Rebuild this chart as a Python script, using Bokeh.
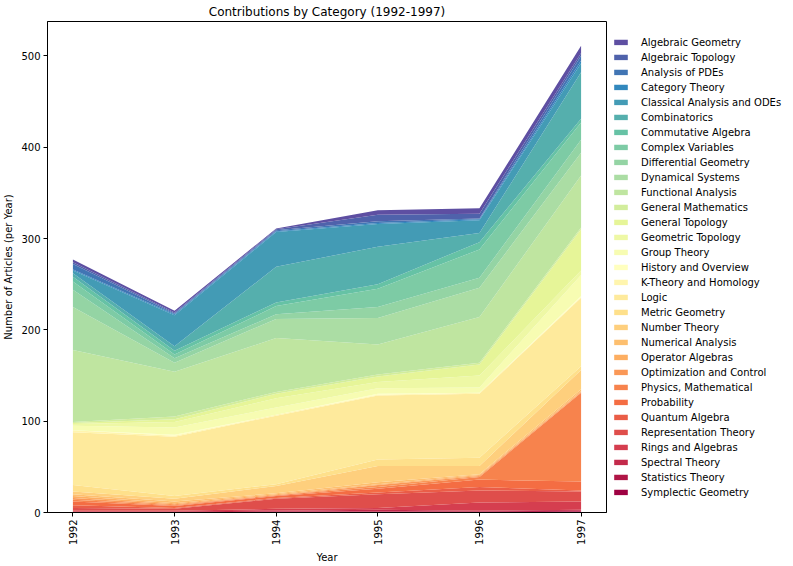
import numpy as np
from bokeh.plotting import figure
from bokeh.models import ColumnDataSource, Legend, LegendItem, FixedTicker, Range1d
from bokeh.embed import file_html
from bokeh.resources import INLINE

years = [1992, 1993, 1994, 1995, 1996, 1997]

# legend order (top of stack first)
categories = [
    "Algebraic Geometry", "Algebraic Topology", "Analysis of PDEs", "Category Theory",
    "Classical Analysis and ODEs", "Combinatorics", "Commutative Algebra", "Complex Variables",
    "Differential Geometry", "Dynamical Systems", "Functional Analysis", "General Mathematics",
    "General Topology", "Geometric Topology", "Group Theory", "History and Overview",
    "K-Theory and Homology", "Logic", "Metric Geometry", "Number Theory", "Numerical Analysis",
    "Operator Algebras", "Optimization and Control", "Physics, Mathematical", "Probability",
    "Quantum Algebra", "Representation Theory", "Rings and Algebras", "Spectral Theory",
    "Statistics Theory", "Symplectic Geometry",
]

algebraic_geometry = [3, 2, 1, 5, 6, 8]
algebraic_topology = [2, 1, 1, 7, 5, 3]
analysis_of_pdes = [6, 1, 1, 2, 1, 5]
category_theory = [1, 1, 1, 1, 1, 3]
classical_analysis = [3, 34, 38, 25, 14, 10]
combinatorics = [4, 5, 39, 41, 10, 51]
commutative_algebra = [5, 4, 4, 5, 8, 4]
complex_variables = [9, 4, 9, 20, 31, 19]
differential_geometry = [19, 5, 5, 12, 11, 14]
dynamical_systems = [47, 10, 21, 29, 32, 25]
functional_analysis = [79, 49, 59, 33, 50, 57]
general_mathematics = [1, 3, 2, 2, 2, 2]
general_topology = [1, 3, 5, 6, 12, 45]
geometric_topology = [2, 6, 10, 7, 13, 5]
group_theory = [5, 8, 8, 6, 6, 23]
history_and_overview = [0, 1, 0, 1, 0, 1]
k_theory = [2, 1, 1, 1, 1, 1]
logic = [58, 65, 75, 70, 70, 75]
metric_geometry = [7, 3, 2, 7, 9, 4]
number_theory = [3, 3, 8, 18, 9, 21]
numerical_analysis = [2, 2, 1, 2, 1, 2]
operator_algebras = [2, 1, 1, 1, 1, 1]
optimization_control = [2, 1, 0, 2, 1, 1]
physics_mathematical = [2, 1, 1, 2, 3, 97]
probability = [4, 2, 2, 4, 8, 10]
quantum_algebra = [3, 1, 1, 2, 4, 1]
representation_theory = [3, 2, 11, 15, 13, 11]
rings_and_algebras = [1, 1, 2, 2, 9, 9]
spectral_theory = [1, 1, 1, 2, 1, 1]
statistics_theory = [0, 0, 1, 1, 1, 1]
symplectic_geometry = [0, 0, 0, 0, 0, 1]

series = [
    algebraic_geometry, algebraic_topology, analysis_of_pdes, category_theory,
    classical_analysis, combinatorics, commutative_algebra, complex_variables,
    differential_geometry, dynamical_systems, functional_analysis, general_mathematics,
    general_topology, geometric_topology, group_theory, history_and_overview,
    k_theory, logic, metric_geometry, number_theory, numerical_analysis,
    operator_algebras, optimization_control, physics_mathematical, probability,
    quantum_algebra, representation_theory, rings_and_algebras, spectral_theory,
    statistics_theory, symplectic_geometry,
]

# Spectral colormap sampled (bottom of stack = red end)
spectral11 = ["#9e0142", "#d53e4f", "#f46d43", "#fdae61", "#fee08b", "#ffffbf",
              "#e6f598", "#abdda4", "#66c2a5", "#3288bd", "#5e4fa2"]
anchors = np.linspace(0, 1, len(spectral11))
rgb = np.array([[int(h[i:i + 2], 16) for i in (1, 3, 5)] for h in spectral11], dtype=float)
n = len(categories)
stack_order = list(range(n))[::-1]  # bottom first: Symplectic ... Algebraic Geometry
colors_bottom_first = []
for k in range(n):
    t = k / (n - 1)
    c = [int(round(np.interp(t, anchors, rgb[:, j]))) for j in range(3)]
    colors_bottom_first.append("#%02x%02x%02x" % tuple(c))

data = {"year": years}
keys = []
for idx in stack_order:
    key = "s%d" % idx
    data[key] = series[idx]
    keys.append(key)
source = ColumnDataSource(data)

p = figure(frame_width=559, frame_height=491, output_backend="svg", toolbar_location=None,
           x_range=Range1d(1991.75, 1997.25), y_range=Range1d(0, 537.6),
           min_border_left=0, min_border_right=0, min_border_top=0, min_border_bottom=0)
p.title.text = "Contributions by Category (1992-1997)"
p.title.align = "center"
p.title.text_font = "DejaVu Sans"
p.title.text_font_size = "12px"
p.title.text_font_style = "normal"
p.title.text_color = "black"
p.title.standoff = 5

renderers = p.varea_stack(stackers=keys, x="year", color=colors_bottom_first, source=source)

items = []
for idx in range(n):
    r = renderers[stack_order.index(idx)]
    items.append(LegendItem(label=categories[idx], renderers=[r]))
legend = Legend(items=items, location="center_left")
legend.border_line_color = None
legend.background_fill_alpha = 0
legend.label_text_font = "DejaVu Sans"
legend.label_text_font_size = "10px"
legend.label_text_color = "black"
legend.glyph_width = 17
legend.glyph_height = 7
legend.label_height = 13
legend.spacing = 2
legend.label_standoff = 12
legend.padding = 5
legend.margin = 6
p.add_layout(legend, "right")

p.xgrid.visible = False
p.ygrid.visible = False
p.outline_line_color = "black"
p.outline_line_alpha = 1

p.xaxis.ticker = FixedTicker(ticks=years)
p.xaxis.major_label_orientation = np.pi / 2
p.yaxis.ticker = FixedTicker(ticks=[0, 100, 200, 300, 400, 500])
p.xaxis.axis_label = "Year"
p.yaxis.axis_label = "Number of Articles (per Year)"
for ax in (p.xaxis[0], p.yaxis[0]):
    ax.major_label_text_font = "DejaVu Sans"
    ax.major_label_text_font_size = "10px"
    ax.major_label_text_color = "black"
    ax.axis_label_text_font = "DejaVu Sans"
    ax.axis_label_text_font_size = "10px"
    ax.axis_label_text_font_style = "normal"
    ax.axis_label_text_color = "black"
    ax.axis_line_color = "black"
    ax.major_tick_line_color = "black"
    ax.minor_tick_line_color = None
    ax.major_tick_in = 0
    ax.major_tick_out = 4
    ax.major_label_standoff = 3
    ax.axis_label_standoff = 4

open("out.html", "w").write(file_html(p, INLINE))
